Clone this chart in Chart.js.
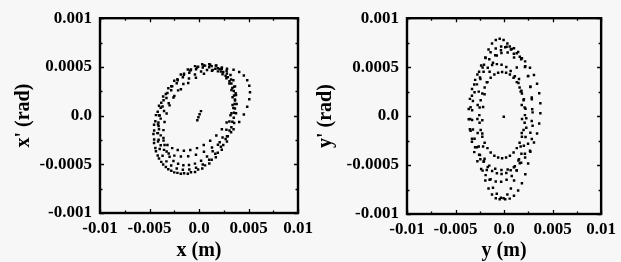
<!DOCTYPE html>
<html><head><meta charset="utf-8">
<script src="https://cdn.jsdelivr.net/npm/chart.js@4/dist/chart.umd.min.js"></script>
<style>
html,body{margin:0;padding:0;background:#f7f7f7;}
#wrap{position:relative;width:621px;height:262px;overflow:hidden;}
canvas{position:absolute;left:0;top:0;}
</style></head><body>
<div id="wrap"><canvas id="c1" width="621" height="262"></canvas><canvas id="c2" width="621" height="262"></canvas></div>
<script>
// Units of the lists below: positions in mm (1e-3 m), angles in 1e-4 rad.
const MM = 1e-3, U4 = 1e-4;

// Tick values and labels
const X_TICKS = [-0.01, -0.005, 0, 0.005, 0.01];
const X_LABELS = ['-0.01', '-0.005', '0.0', '0.005', '0.01'];
const X_MINOR = [-0.0075, -0.0025, 0.0025, 0.0075];
const Y_TICKS = [-0.001, -0.0005, 0, 0.0005, 0.001];
const Y_LABELS = ['-0.001', '-0.0005', '0.0', '0.0005', '0.001'];
const Y_MINOR = [-0.00075, -0.00025, 0.00025, 0.00075];

// ---- Horizontal phase space (x, x') : turns ----
const L1x = [3.80,3.74,3.55,3.24,2.82,2.30,1.70,1.04,0.33,-0.40,-1.13,-1.84,-2.50,-3.10,-3.62,-4.04,-4.35,-4.54,-4.60,-4.54,-4.35,-4.04,-3.62,-3.10,-2.50,-1.84,-1.13,-0.40,0.33,1.04,1.70,2.30,2.82,3.24,3.55,3.74];
const L1y = [1.20,2.12,2.96,3.71,4.33,4.81,5.13,5.28,5.27,5.08,4.73,4.22,3.58,2.81,1.95,1.02,0.05,-0.93,-1.90,-2.82,-3.66,-4.41,-5.03,-5.51,-5.83,-5.98,-5.97,-5.78,-5.43,-4.92,-4.28,-3.51,-2.65,-1.72,-0.75,0.23];
const L2x = [3.60,3.54,3.37,3.08,2.69,2.21,1.65,1.03,0.38,-0.30,-0.98,-1.63,-2.25,-2.81,-3.29,-3.68,-3.97,-4.14,-4.20,-4.14,-3.97,-3.68,-3.29,-2.81,-2.25,-1.63,-0.98,-0.30,0.38,1.03,1.65,2.21,2.69,3.08,3.37,3.54];
const L2y = [1.20,2.06,2.84,3.52,4.10,4.53,4.82,4.96,4.94,4.75,4.41,3.93,3.32,2.60,1.80,0.93,0.02,-0.90,-1.80,-2.66,-3.44,-4.12,-4.70,-5.13,-5.42,-5.56,-5.54,-5.35,-5.01,-4.53,-3.92,-3.20,-2.40,-1.53,-0.62,0.30];
const L3x = [5.15,5.08,4.87,4.53,4.06,3.49,2.83,2.09,1.31,0.50,-0.31,-1.09,-1.83,-2.49,-3.06,-3.53,-3.87,-4.08,-4.15,-4.08,-3.87,-3.53,-3.06,-2.49,-1.83,-1.09,-0.31,0.50,1.31,2.09,2.83,3.49,4.06,4.53,4.87,5.08];
const L3y = [2.40,3.07,3.64,4.12,4.48,4.71,4.81,4.78,4.61,4.30,3.88,3.34,2.71,2.01,1.26,0.48,-0.31,-1.07,-1.80,-2.47,-3.04,-3.52,-3.88,-4.11,-4.21,-4.18,-4.01,-3.70,-3.28,-2.74,-2.11,-1.41,-0.66,0.12,0.91,1.67];
const L4x = [3.70,3.64,3.47,3.18,2.79,2.31,1.75,1.13,0.48,-0.20,-0.88,-1.53,-2.15,-2.71,-3.19,-3.58,-3.87,-4.04,-4.10,-4.04,-3.87,-3.58,-3.19,-2.71,-2.15,-1.53,-0.88,-0.20,0.48,1.13,1.75,2.31,2.79,3.18,3.47,3.64];
const L4y = [2.30,3.00,3.63,4.17,4.61,4.94,5.14,5.21,5.14,4.94,4.62,4.18,3.64,3.01,2.31,1.57,0.81,0.04,-0.70,-1.40,-2.03,-2.57,-3.01,-3.34,-3.54,-3.61,-3.54,-3.34,-3.02,-2.58,-2.04,-1.41,-0.71,0.03,0.79,1.56];
const L5x = [3.63,3.51,3.27,2.91,2.45,1.90,1.28,0.61,-0.09,-0.81,-1.51,-2.18,-2.80,-3.35,-3.81,-4.17,-4.41,-4.53,-4.53,-4.41,-4.17,-3.81,-3.35,-2.80,-2.18,-1.51,-0.81,-0.09,0.61,1.28,1.90,2.45,2.91,3.27,3.51,3.63];
const L5y = [1.66,2.52,3.29,3.95,4.48,4.86,5.08,5.13,5.02,4.74,4.31,3.73,3.02,2.22,1.33,0.39,-0.57,-1.53,-2.46,-3.32,-4.09,-4.75,-5.28,-5.66,-5.88,-5.93,-5.82,-5.54,-5.11,-4.53,-3.82,-3.02,-2.13,-1.19,-0.23,0.73];
const L6x = [3.39,3.28,3.07,2.77,2.38,1.91,1.38,0.81,0.21,-0.41,-1.01,-1.58,-2.11,-2.58,-2.97,-3.27,-3.48,-3.59,-3.59,-3.48,-3.27,-2.97,-2.58,-2.11,-1.58,-1.01,-0.41,0.21,0.81,1.38,1.91,2.38,2.77,3.07,3.28,3.39];
const L6y = [1.89,2.63,3.29,3.83,4.25,4.54,4.69,4.68,4.53,4.23,3.80,3.25,2.59,1.85,1.05,0.21,-0.65,-1.49,-2.29,-3.03,-3.69,-4.23,-4.65,-4.94,-5.09,-5.08,-4.93,-4.63,-4.20,-3.65,-2.99,-2.25,-1.45,-0.61,0.25,1.09];
const LCx = [-0.17,-0.06,0.06,0.20];
const LCy = [-0.48,-0.18,0.14,0.46];

// ---- Vertical phase space (y, y') ----
const RAx = [2.15,2.12,2.01,1.84,1.60,1.31,0.98,0.60,0.21,-0.20,-0.61,-1.00,-1.38,-1.71,-2.00,-2.24,-2.41,-2.52,-2.55,-2.52,-2.41,-2.24,-2.00,-1.71,-1.38,-1.00,-0.61,-0.20,0.21,0.60,0.98,1.31,1.60,1.84,2.01,2.12];
const RAy = [0.10,0.87,1.61,2.30,2.93,3.47,3.91,4.24,4.43,4.50,4.43,4.24,3.91,3.47,2.93,2.30,1.61,0.87,0.10,-0.67,-1.41,-2.10,-2.73,-3.27,-3.71,-4.04,-4.23,-4.30,-4.23,-4.04,-3.71,-3.27,-2.73,-2.10,-1.41,-0.67];
const RBx = [3.74,3.62,3.40,3.08,2.67,2.17,1.62,1.01,0.37,-0.27,-0.91,-1.52,-2.07,-2.57,-2.98,-3.30,-3.52,-3.64,-3.64,-3.52,-3.30,-2.98,-2.57,-2.07,-1.52,-0.91,-0.27,0.37,1.01,1.62,2.17,2.67,3.08,3.40,3.62,3.74];
const RBy = [1.32,2.34,3.31,4.19,4.95,5.59,6.06,6.37,6.50,6.45,6.22,5.81,5.24,4.53,3.70,2.77,1.76,0.72,-0.32,-1.34,-2.31,-3.19,-3.95,-4.59,-5.06,-5.37,-5.50,-5.45,-5.22,-4.81,-4.24,-3.53,-2.70,-1.77,-0.76,0.28];
const RCx = [1.85,1.82,1.71,1.54,1.31,1.03,0.70,0.34,-0.05,-0.45,-0.85,-1.24,-1.60,-1.93,-2.21,-2.44,-2.61,-2.72,-2.75,-2.72,-2.61,-2.44,-2.21,-1.93,-1.60,-1.24,-0.85,-0.45,-0.05,0.34,0.70,1.03,1.31,1.54,1.71,1.82];
const RCy = [-0.30,1.13,2.50,3.80,4.97,5.98,6.80,7.41,7.78,7.90,7.78,7.41,6.80,5.98,4.97,3.80,2.50,1.13,-0.30,-1.73,-3.10,-4.40,-5.57,-6.58,-7.40,-8.01,-8.38,-8.50,-8.38,-8.01,-7.40,-6.58,-5.57,-4.40,-3.10,-1.73];
const RDx = [2.94,2.86,2.71,2.48,2.19,1.84,1.45,1.02,0.58,0.12,-0.32,-0.75,-1.14,-1.49,-1.78,-2.01,-2.16,-2.24,-2.24,-2.16,-2.01,-1.78,-1.49,-1.14,-0.75,-0.32,0.12,0.58,1.02,1.45,1.84,2.19,2.48,2.71,2.86,2.94];
const RDy = [0.38,1.71,2.96,4.11,5.10,5.92,6.54,6.94,7.10,7.03,6.73,6.20,5.46,4.53,3.45,2.24,0.93,-0.42,-1.78,-3.11,-4.36,-5.51,-6.50,-7.32,-7.94,-8.34,-8.50,-8.43,-8.13,-7.60,-6.86,-5.93,-4.85,-3.64,-2.33,-0.98];
const REx = [2.90,2.85,2.71,2.47,2.15,1.76,1.30,0.79,0.26,-0.30,-0.86,-1.39,-1.90,-2.36,-2.75,-3.07,-3.31,-3.45,-3.50,-3.45,-3.31,-3.07,-2.75,-2.36,-1.90,-1.39,-0.86,-0.30,0.26,0.79,1.30,1.76,2.15,2.47,2.71,2.85];
const REy = [0.70,1.89,3.03,4.08,5.02,5.81,6.43,6.86,7.08,7.10,6.91,6.52,5.93,5.16,4.25,3.22,2.09,0.91,-0.30,-1.49,-2.63,-3.68,-4.62,-5.41,-6.03,-6.46,-6.68,-6.70,-6.51,-6.12,-5.53,-4.76,-3.85,-2.82,-1.69,-0.51];
const RFx = [2.29,2.21,2.04,1.79,1.48,1.11,0.68,0.23,-0.26,-0.74,-1.23,-1.68,-2.11,-2.48,-2.79,-3.04,-3.21,-3.29,-3.29,-3.21,-3.04,-2.79,-2.48,-2.11,-1.68,-1.23,-0.74,-0.26,0.23,0.68,1.11,1.48,1.79,2.04,2.21,2.29];
const RFy = [-0.21,0.76,1.71,2.59,3.38,4.06,4.61,5.01,5.24,5.31,5.21,4.94,4.52,3.94,3.24,2.43,1.54,0.59,-0.39,-1.36,-2.31,-3.19,-3.98,-4.66,-5.21,-5.61,-5.84,-5.91,-5.81,-5.54,-5.12,-4.54,-3.84,-3.03,-2.14,-1.19];
const RCenx = [-0.03];
const RCeny = [-0.07];

function pts(xs, ys){ return xs.map((v,i)=>({x: v*MM, y: ys[i]*U4})); }
function ds(xs, ys){
  return {data: pts(xs, ys), showLine:false, pointStyle:'rect', pointRadius:1.75,
          pointBackgroundColor:'#000', pointBorderWidth:0, borderColor:'#000', backgroundColor:'#000'};
}

const framePlugin = {
  id:'frame',
  afterDatasetsDraw(chart){
    const {ctx, chartArea:a, scales:{x, y}} = chart;
    ctx.save();
    ctx.strokeStyle = '#000';
    ctx.lineWidth = 1.3;
    const vt = (vals, len) => vals.forEach(v => {
      const p = Math.round(x.getPixelForValue(v)) + 0.5;
      ctx.beginPath(); ctx.moveTo(p, a.bottom); ctx.lineTo(p, a.bottom-len);
      ctx.moveTo(p, a.top); ctx.lineTo(p, a.top+len); ctx.stroke();
    });
    const ht = (vals, len) => vals.forEach(v => {
      const p = Math.round(y.getPixelForValue(v)) + 0.5;
      ctx.beginPath(); ctx.moveTo(a.left, p); ctx.lineTo(a.left+len, p);
      ctx.moveTo(a.right, p); ctx.lineTo(a.right-len, p); ctx.stroke();
    });
    vt(X_TICKS, 4); vt(X_MINOR, 2.5); ht(Y_TICKS, 4); ht(Y_MINOR, 2.5);
    ctx.lineWidth = 2.4;
    ctx.strokeRect(a.left, a.top, a.right-a.left, a.bottom-a.top);
    ctx.restore();
  }
};

const FAM = '"Liberation Serif", "DejaVu Serif", serif';
function makeChart(id, datasets, xTitle, yTitle, pad, yW, xH, yTitlePad){
  return new Chart(document.getElementById(id), {
    type:'scatter',
    data:{datasets},
    plugins:[framePlugin],
    options:{
      responsive:false, animation:false, devicePixelRatio:1, events:[],
      layout:{padding:pad},
      plugins:{legend:{display:false}, tooltip:{enabled:false}},
      scales:{
        x:{type:'linear', min:-0.01, max:0.01,
           afterBuildTicks: s => { s.ticks = X_TICKS.map(v=>({value:v})); },
           afterFit: s => { s.height = xH; },
           grid:{display:false, drawTicks:false}, border:{display:false},
           ticks:{autoSkip:false, maxRotation:0, minRotation:0, padding:5, color:'#000',
                  font:{family:FAM, size:17, weight:'bold'},
                  callback:(v,i)=>X_LABELS[i]},
           title:{display:true, text:xTitle, color:'#000',
                  font:{family:FAM, size:20, weight:'bold', lineHeight:1}, padding:{top:0, bottom:1}}},
        y:{type:'linear', min:-0.001, max:0.001,
           afterBuildTicks: s => { s.ticks = Y_TICKS.map(v=>({value:v})); },
           afterFit: s => { s.width = yW; },
           grid:{display:false, drawTicks:false}, border:{display:false},
           ticks:{autoSkip:false, padding:8, color:'#000',
                  font:{family:FAM, size:17, weight:'bold'},
                  callback:(v,i)=>Y_LABELS[i]},
           title:{display:true, text:yTitle, color:'#000',
                  font:{family:FAM, size:20, weight:'bold', lineHeight:1}, padding:{top:yTitlePad, bottom:0}}}
      }
    }
  });
}

makeChart('c1', [ds(L1x,L1y), ds(L2x,L2y), ds(L3x,L3y), ds(L4x,L4y), ds(L5x,L5y), ds(L6x,L6y), ds(LCx,LCy)],
  'x (m)', "x' (rad)", {left:0, top:16, right:323, bottom:0}, 100, 49, 14);
makeChart('c2', [ds(RAx,RAy), ds(RBx,RBy), ds(RCx,RCy), ds(RDx,RDy), ds(REx,REy), ds(RFx,RFy), ds(RCenx,RCeny)],
  'y (m)', "y' (rad)", {left:310, top:17, right:16, bottom:0}, 97, 48, 6);
</script>
</body></html>
